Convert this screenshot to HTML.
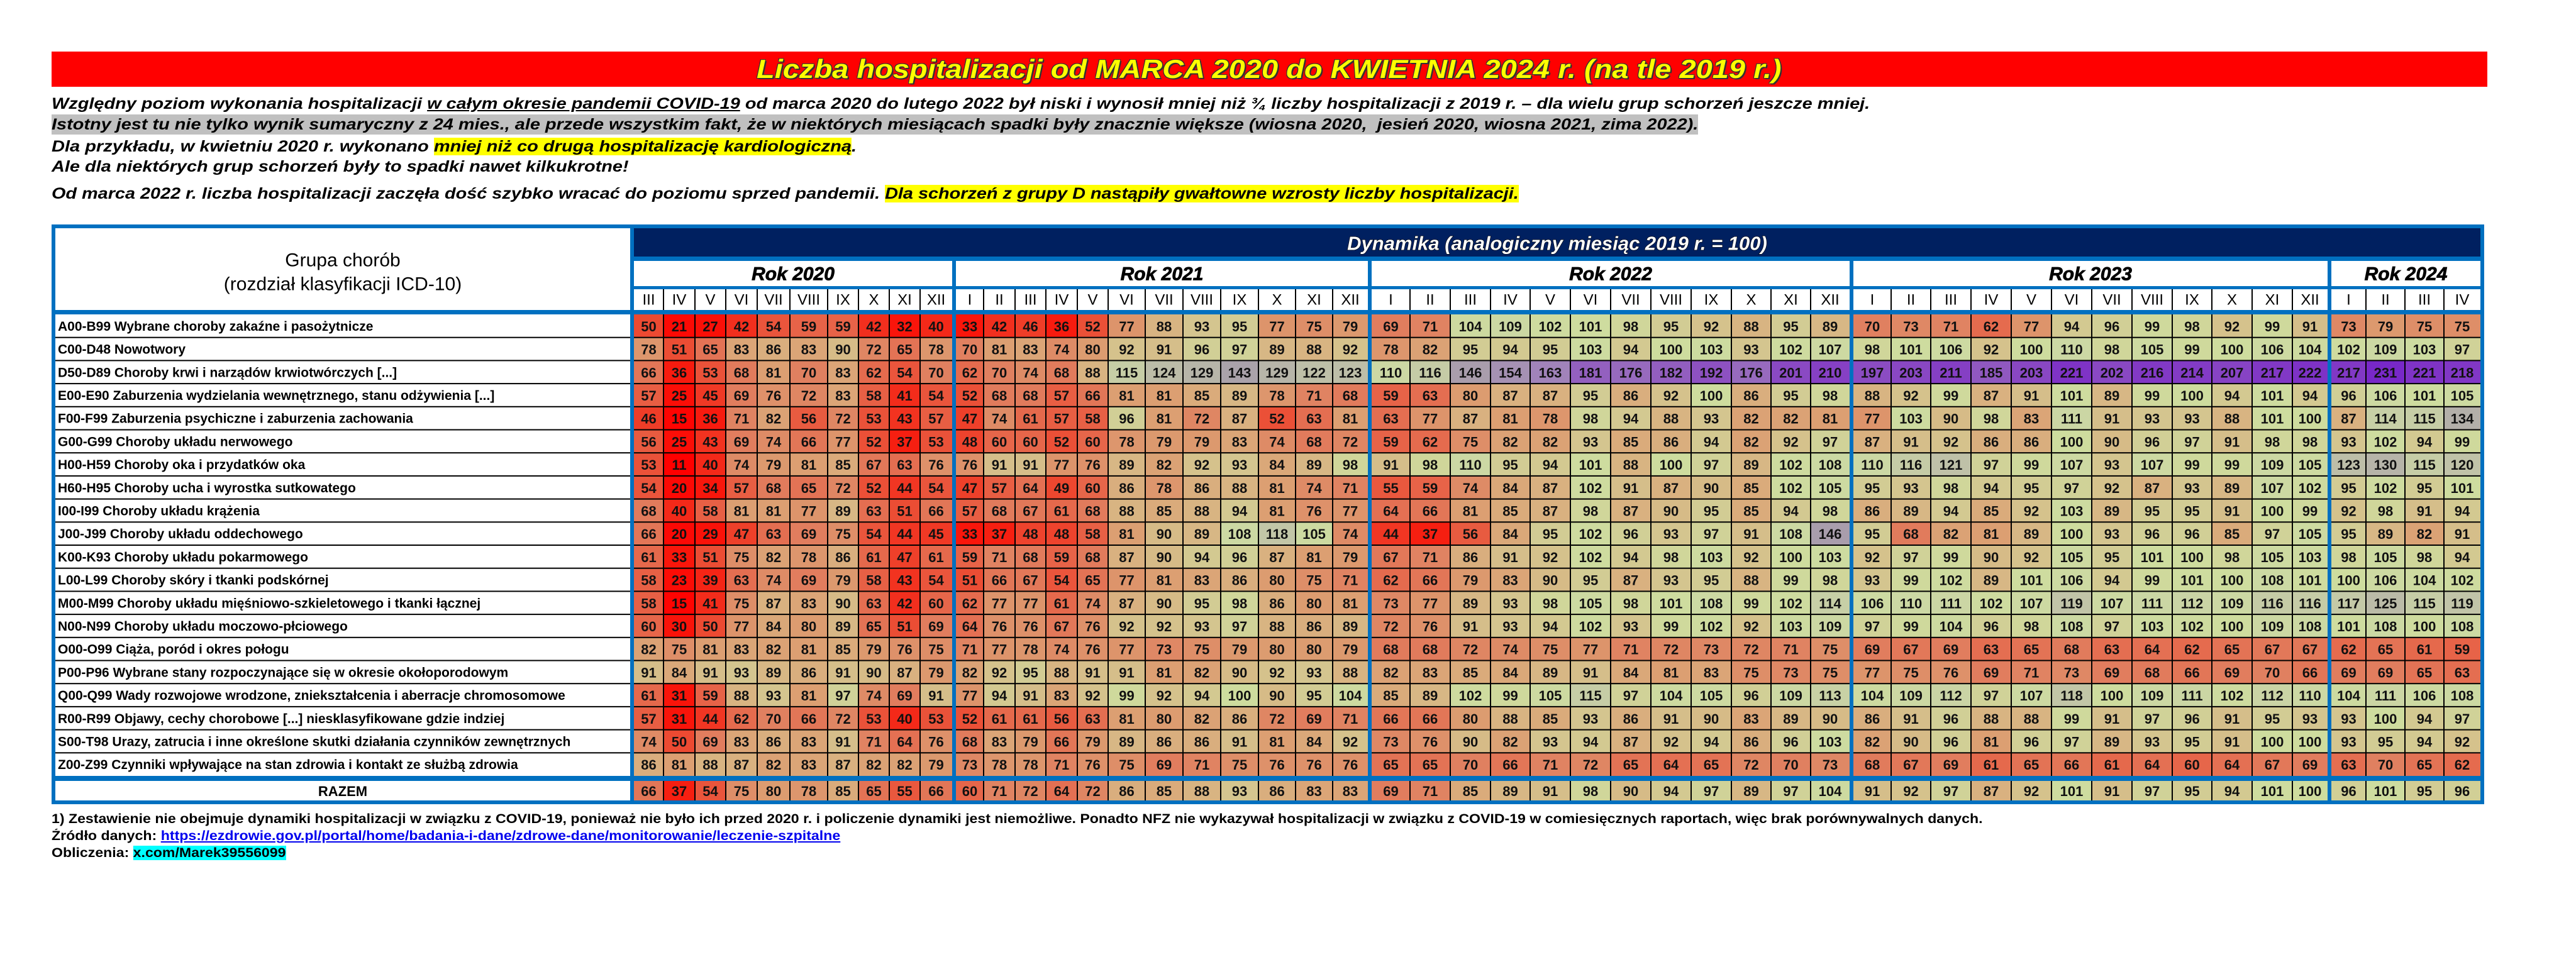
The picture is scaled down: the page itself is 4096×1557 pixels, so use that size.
<!DOCTYPE html>
<html lang="pl">
<head>
<meta charset="utf-8">
<title>Liczba hospitalizacji od marca 2020 do kwietnia 2024</title>
<style>
html,body{margin:0;padding:0;background:#fff;}
body{width:4096px;height:1557px;position:relative;overflow:hidden;font-family:"Liberation Sans",Arial,sans-serif;}
.line{position:absolute;left:82px;white-space:nowrap;transform-origin:0 50%;color:#000;}
.para{font-weight:bold;font-style:italic;font-size:25px;line-height:32px;height:32px;}
.foot{font-weight:bold;font-size:21px;line-height:26px;height:26px;}
#title-bar{position:absolute;left:82px;top:82px;width:3873px;height:56px;background:#ff0000;}
#title-text{position:absolute;top:0;left:1121px;white-space:nowrap;transform-origin:0 50%;font-weight:bold;font-style:italic;font-size:42px;line-height:56px;color:#ffff00;
 text-shadow:-1px -1px 0 #333,1px -1px 0 #333,-1px 1px 0 #333,1px 1px 0 #333,2px 2px 0 #333;}
svg{position:absolute;left:0;top:0;}
</style>
</head>
<body>
<div id="title-bar">
  <div id="title-text" data-target="1630">Liczba hospitalizacji od MARCA 2020 do KWIETNIA 2024 r. (na tle 2019 r.)</div>
</div>

<div class="line para" style="top:149px" data-target="2891">Względny poziom wykonania hospitalizacji <u>w całym okresie pandemii COVID-19</u> od marca 2020 do lutego 2022 był niski i wynosił mniej niż ¾ liczby hospitalizacji z 2019 r. – dla wielu grup schorzeń jeszcze mniej.</div>
<div class="line para" style="top:182px;background:#c0c0c0" data-target="2618">Istotny jest tu nie tylko wynik sumaryczny z 24 mies., ale przede wszystkim fakt, że w niektórych miesiącach spadki były znacznie większe (wiosna 2020,&nbsp; jesień 2020, wiosna 2021, zima 2022).</div>
<div class="line para" style="top:217px" data-target="1280">Dla przykładu, w kwietniu 2020 r. wykonano <span style="background:#ffff00">mniej niż co drugą hospitalizację kardiologiczną</span>.</div>
<div class="line para" style="top:249px" data-target="918">Ale dla niektórych grup schorzeń były to spadki nawet kilkukrotne!</div>
<div class="line para" style="top:292px" data-target="2333">Od marca 2022 r. liczba hospitalizacji zaczęła dość szybko wracać do poziomu sprzed pandemii. <span style="background:#ffff00">Dla schorzeń z grupy D nastąpiły gwałtowne wzrosty liczby hospitalizacji.</span></div>

<svg id="chart" width="4096" height="1557" viewBox="0 0 4096 1557" style="top:0;left:0;pointer-events:auto"></svg>

<div class="line foot" style="top:1290px" data-target="3070">1) Zestawienie nie obejmuje dynamiki hospitalizacji w związku z COVID-19, ponieważ nie było ich przed 2020 r. i policzenie dynamiki jest niemożliwe. Ponadto NFZ nie wykazywał hospitalizacji w związku z COVID-19 w comiesięcznych raportach, więc brak porównywalnych danych.</div>
<div class="line foot" style="top:1317px" data-target="1254">Źródło danych: <a style="color:#0000ee;text-decoration:underline">https://ezdrowie.gov.pl/portal/home/badania-i-dane/zdrowe-dane/monitorowanie/leczenie-szpitalne</a></div>
<div class="line foot" style="top:1344px" data-target="373">Obliczenia: <span style="background:#00ffff">x.com/Marek39556099</span></div>

<script>
// ---------- data ----------
const yearLabels = ['Rok 2020','Rok 2021','Rok 2022','Rok 2023','Rok 2024'];
const months2020 = ['III','IV','V','VI','VII','VIII','IX','X','XI','XII'];
const monthsFull = ['I','II','III','IV','V','VI','VII','VIII','IX','X','XI','XII'];
const months2024 = ['I','II','III','IV'];
const groupLabels = [
 'A00-B99 Wybrane choroby zakaźne i pasożytnicze',
 'C00-D48 Nowotwory',
 'D50-D89 Choroby krwi i narządów krwiotwórczych [...]',
 'E00-E90 Zaburzenia wydzielania wewnętrznego, stanu odżywienia [...]',
 'F00-F99 Zaburzenia psychiczne i zaburzenia zachowania',
 'G00-G99 Choroby układu nerwowego',
 'H00-H59 Choroby oka i przydatków oka',
 'H60-H95 Choroby ucha i wyrostka sutkowatego',
 'I00-I99 Choroby układu krążenia',
 'J00-J99 Choroby układu oddechowego',
 'K00-K93 Choroby układu pokarmowego',
 'L00-L99 Choroby skóry i tkanki podskórnej',
 'M00-M99 Choroby układu mięśniowo-szkieletowego i tkanki łącznej',
 'N00-N99 Choroby układu moczowo-płciowego',
 'O00-O99 Ciąża, poród i okres połogu',
 'P00-P96 Wybrane stany rozpoczynające się w okresie okołoporodowym',
 'Q00-Q99 Wady rozwojowe wrodzone, zniekształcenia i aberracje chromosomowe',
 'R00-R99 Objawy, cechy chorobowe [...] niesklasyfikowane gdzie indziej',
 'S00-T98 Urazy, zatrucia i inne określone skutki działania czynników zewnętrznych',
 'Z00-Z99 Czynniki wpływające na stan zdrowia i kontakt ze służbą zdrowia'
];
const totalLabel = 'RAZEM';
const v2020 = [
 [50,21,27,42,54,59,59,42,32,40],[78,51,65,83,86,83,90,72,65,78],[66,36,53,68,81,70,83,62,54,70],
 [57,25,45,69,76,72,83,58,41,54],[46,15,36,71,82,56,72,53,43,57],[56,25,43,69,74,66,77,52,37,53],
 [53,11,40,74,79,81,85,67,63,76],[54,20,34,57,68,65,72,52,44,54],[68,40,58,81,81,77,89,63,51,66],
 [66,20,29,47,63,69,75,54,44,45],[61,33,51,75,82,78,86,61,47,61],[58,23,39,63,74,69,79,58,43,54],
 [58,15,41,75,87,83,90,63,42,60],[60,30,50,77,84,80,89,65,51,69],[82,75,81,83,82,81,85,79,76,75],
 [91,84,91,93,89,86,91,90,87,79],[61,31,59,88,93,81,97,74,69,91],[57,31,44,62,70,66,72,53,40,53],
 [74,50,69,83,86,83,91,71,64,76],[86,81,88,87,82,83,87,82,82,79],[66,37,54,75,80,78,85,65,55,66]
];
const v2021 = [
 [33,42,46,36,52,77,88,93,95,77,75,79],[70,81,83,74,80,92,91,96,97,89,88,92],[62,70,74,68,88,115,124,129,143,129,122,123],
 [52,68,68,57,66,81,81,85,89,78,71,68],[47,74,61,57,58,96,81,72,87,52,63,81],[48,60,60,52,60,78,79,79,83,74,68,72],
 [76,91,91,77,76,89,82,92,93,84,89,98],[47,57,64,49,60,86,78,86,88,81,74,71],[57,68,67,61,68,88,85,88,94,81,76,77],
 [33,37,48,48,58,81,90,89,108,118,105,74],[59,71,68,59,68,87,90,94,96,87,81,79],[51,66,67,54,65,77,81,83,86,80,75,71],
 [62,77,77,61,74,87,90,95,98,86,80,81],[64,76,76,67,76,92,92,93,97,88,86,89],[71,77,78,74,76,77,73,75,79,80,80,79],
 [82,92,95,88,91,91,81,82,90,92,93,88],[77,94,91,83,92,99,92,94,100,90,95,104],[52,61,61,56,63,81,80,82,86,72,69,71],
 [68,83,79,66,79,89,86,86,91,81,84,92],[73,78,78,71,76,75,69,71,75,76,76,76],[60,71,72,64,72,86,85,88,93,86,83,83]
];
const v2022 = [
 [69,71,104,109,102,101,98,95,92,88,95,89],[78,82,95,94,95,103,94,100,103,93,102,107],[110,116,146,154,163,181,176,182,192,176,201,210],
 [59,63,80,87,87,95,86,92,100,86,95,98],[63,77,87,81,78,98,94,88,93,82,82,81],[59,62,75,82,82,93,85,86,94,82,92,97],
 [91,98,110,95,94,101,88,100,97,89,102,108],[55,59,74,84,87,102,91,87,90,85,102,105],[64,66,81,85,87,98,87,90,95,85,94,98],
 [44,37,56,84,95,102,96,93,97,91,108,146],[67,71,86,91,92,102,94,98,103,92,100,103],[62,66,79,83,90,95,87,93,95,88,99,98],
 [73,77,89,93,98,105,98,101,108,99,102,114],[72,76,91,93,94,102,93,99,102,92,103,109],[68,68,72,74,75,77,71,72,73,72,71,75],
 [82,83,85,84,89,91,84,81,83,75,73,75],[85,89,102,99,105,115,97,104,105,96,109,113],[66,66,80,88,85,93,86,91,90,83,89,90],
 [73,76,90,82,93,94,87,92,94,86,96,103],[65,65,70,66,71,72,65,64,65,72,70,73],[69,71,85,89,91,98,90,94,97,89,97,104]
];
const v2023 = [
 [70,73,71,62,77,94,96,99,98,92,99,91],[98,101,106,92,100,110,98,105,99,100,106,104],[197,203,211,185,203,221,202,216,214,207,217,222],
 [88,92,99,87,91,101,89,99,100,94,101,94],[77,103,90,98,83,111,91,93,93,88,101,100],[87,91,92,86,86,100,90,96,97,91,98,98],
 [110,116,121,97,99,107,93,107,99,99,109,105],[95,93,98,94,95,97,92,87,93,89,107,102],[86,89,94,85,92,103,89,95,95,91,100,99],
 [95,68,82,81,89,100,93,96,96,85,97,105],[92,97,99,90,92,105,95,101,100,98,105,103],[93,99,102,89,101,106,94,99,101,100,108,101],
 [106,110,111,102,107,119,107,111,112,109,116,116],[97,99,104,96,98,108,97,103,102,100,109,108],[69,67,69,63,65,68,63,64,62,65,67,67],
 [77,75,76,69,71,73,69,68,66,69,70,66],[104,109,112,97,107,118,100,109,111,102,112,110],[86,91,96,88,88,99,91,97,96,91,95,93],
 [82,90,96,81,96,97,89,93,95,91,100,100],[68,67,69,61,65,66,61,64,60,64,67,69],[91,92,97,87,92,101,91,97,95,94,101,100]
];
const v2024 = [
 [73,79,75,75],[102,109,103,97],[217,231,221,218],[96,106,101,105],[87,114,115,134],[93,102,94,99],
 [123,130,115,120],[95,102,95,101],[92,98,91,94],[95,89,82,91],[98,105,98,94],[100,106,104,102],
 [117,125,115,119],[101,108,100,108],[62,65,61,59],[69,69,65,63],[104,111,106,108],[93,100,94,97],
 [93,95,94,92],[63,70,65,62],[96,101,95,96]
];

// ---------- layout (not data) ----------
const yearMonths = [months2020, monthsFull, monthsFull, monthsFull, months2024];
const yearValues = [v2020, v2021, v2022, v2023, v2024];
const colWidths = [
 [47,50,49,50,52,60,49,49,49,51],
 [44,50,49,50,49,59,60,60,60,59,59,56],
 [61,64,64,63,64,64,64,64,64,63,63,62],
 [60,63,64,64,64,64,64,64,63,64,64,56],
 [55,62,62,58]
];
const BLUE='#0070c0', NAVY='#002060';
const X0=1008, SEP=6, ROW0=500, RH=36.7, LABX0=88, LABX1=1002;
const NS='http://www.w3.org/2000/svg';
const svg=document.getElementById('chart');

// colour scale: value -> colour
const colorStops=[[11,[255,0,0]],[35,[248,24,12]],[50,[236,74,50]],[60,[230,102,74]],[70,[224,128,96]],
 [80,[220,156,112]],[88,[216,180,130]],[95,[210,204,148]],[100,[206,220,158]],[110,[204,216,164]],
 [120,[192,194,168]],[143,[170,162,170]],[165,[160,128,188]],[185,[144,88,192]],[210,[134,64,196]],[231,[120,40,200]]];
function colorFor(v){
  if(v<=colorStops[0][0]) return 'rgb('+colorStops[0][1].join(',')+')';
  for(let i=1;i<colorStops.length;i++){
    if(v<=colorStops[i][0]){
      const [a,ca]=colorStops[i-1],[b,cb]=colorStops[i];const t=(v-a)/(b-a);
      return 'rgb('+ca.map((c,k)=>Math.round(c+(cb[k]-c)*t)).join(',')+')';
    }
  }
  return 'rgb('+colorStops[colorStops.length-1][1].join(',')+')';
}
function mk(tag,attrs,parent){const e=document.createElementNS(NS,tag);for(const k in attrs)e.setAttribute(k,attrs[k]);(parent||svg).appendChild(e);return e;}
function rowY(i){return i<groupLabels.length ? ROW0+i*RH : 1242;}
function rowH(i){return i<groupLabels.length ? RH : 31;}

// outer frame
let e=mk('rect',{x:82,y:357,width:3868,height:922,fill:BLUE});


// navy band
e=mk('rect',{x:X0,y:363,width:3944-X0,height:45,fill:NAVY});


e=mk('text',{x:(X0+3944)/2,y:387,'text-anchor':'middle','dominant-baseline':'central','font-family':'Liberation Sans, sans-serif','font-size':31,'font-weight':'bold','font-style':'italic',fill:'#fff',stroke:'#000','stroke-width':1.2,'paint-order':'stroke'});
e.textContent='Dynamika (analogiczny miesiąc 2019 r. = 100)';



// label header
e=mk('rect',{x:LABX0,y:363,width:LABX1-LABX0,height:130,fill:'#fff'});


e=mk('text',{x:545,y:414,'text-anchor':'middle','dominant-baseline':'central','font-family':'Liberation Sans, sans-serif','font-size':30,fill:'#000'});
e.textContent='Grupa chorób';


e=mk('text',{x:545,y:452,'text-anchor':'middle','dominant-baseline':'central','font-family':'Liberation Sans, sans-serif','font-size':30,fill:'#000'});
e.textContent='(rozdział klasyfikacji ICD-10)';



// label rows
const nRows=groupLabels.length+1;
for(let i=0;i<nRows;i++){
  const y=rowY(i),h=rowH(i);
  e=mk('rect',{x:LABX0,y:y,width:LABX1-LABX0,height:h,fill:'#fff'});
  
  
  const isTotal=i===groupLabels.length;
  e=mk('text',{x:isTotal?545:92,y:y+h/2+1,'text-anchor':isTotal?'middle':'start','dominant-baseline':'central','font-family':'Liberation Sans, sans-serif','font-size':isTotal?22:21,'font-weight':'bold',fill:'#000'});
  e.textContent=isTotal?totalLabel:groupLabels[i];
  
  
  if(i>0 && i<groupLabels.length){
    e=mk('rect',{x:LABX0,y:y-1,width:LABX1-LABX0,height:2,fill:'#000'});
    
    
  }
}

// year groups
let gx=X0;
yearLabels.forEach((yl,g)=>{
  const widths=colWidths[g];
  const total=widths.reduce((a,b)=>a+b,0);
  const gStart=gx;
  // year title row
  e=mk('rect',{x:gStart,y:415,width:total,height:40,fill:'#fff'});
  
  
  e=mk('text',{x:gStart+total/2,y:436,'text-anchor':'middle','dominant-baseline':'central','font-family':'Liberation Sans, sans-serif','font-size':30,'font-weight':'bold','font-style':'italic',fill:'#000',stroke:'#000','stroke-width':0.8});
  e.textContent=yl;
  
  
  let cx=gStart;
  widths.forEach((w,c)=>{
    // month header
    e=mk('rect',{x:cx,y:460,width:w,height:33,fill:'#fff'});
    
    
    e=mk('text',{x:cx+w/2,y:477,'text-anchor':'middle','dominant-baseline':'central','font-family':'Liberation Sans, sans-serif','font-size':24,fill:'#000'});
    e.textContent=yearMonths[g][c];
    
    
    // data cells
    for(let r=0;r<nRows;r++){
      const v=yearValues[g][r][c];
      const y=rowY(r),h=rowH(r);
      e=mk('rect',{x:cx,y:y,width:w,height:h,fill:colorFor(v)});
      
      
      e=mk('text',{x:cx+w/2,y:y+h/2+1,'text-anchor':'middle','dominant-baseline':'central','font-family':'Liberation Sans, sans-serif','font-size':22,'font-weight':'bold',fill:'#111'});
      e.textContent=String(v);
      
      
    }
    if(c>0){
      e=mk('rect',{x:cx-1,y:460,width:2,height:33,fill:'#000'});
      
      
      e=mk('rect',{x:cx-1,y:ROW0,width:2,height:RH*groupLabels.length,fill:'#000'});
      
      
      e=mk('rect',{x:cx-1,y:1242,width:2,height:31,fill:'#000'});
      
      
    }
    cx+=w;
  });
  for(let r=1;r<groupLabels.length;r++){
    e=mk('rect',{x:gStart,y:rowY(r)-1,width:total,height:2,fill:'#000'});
    
    
  }
  gx=gStart+total+SEP;
});

// fit text lines to measured widths
document.querySelectorAll('[data-target]').forEach(el=>{
  const t=parseFloat(el.getAttribute('data-target'));
  const w=el.scrollWidth;
  if(w>0) el.style.transform='scaleX('+(t/w)+')';
});
</script>
</body>
</html>
